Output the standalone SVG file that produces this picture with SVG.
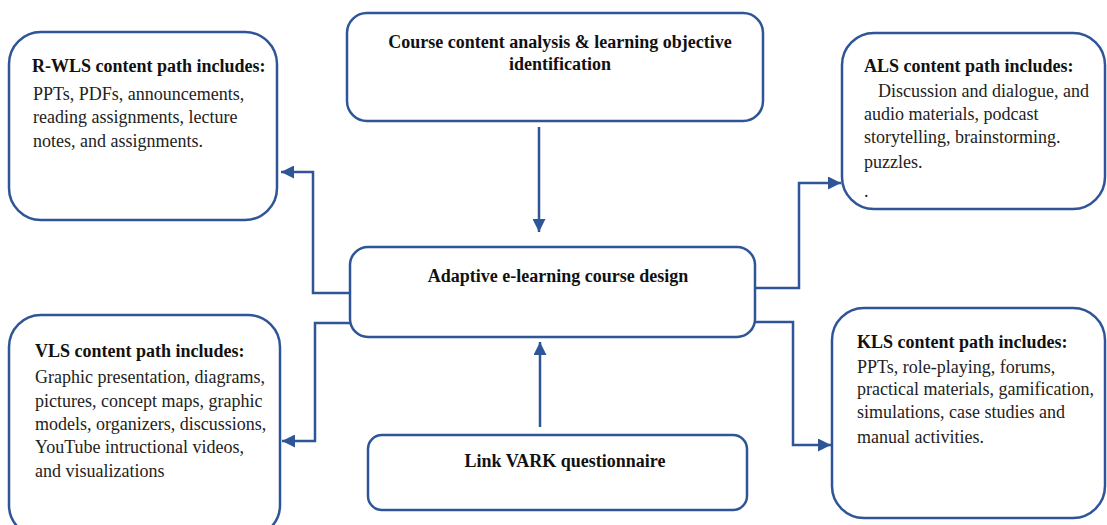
<svg xmlns="http://www.w3.org/2000/svg" width="1107" height="525" viewBox="0 0 1107 525">
<style>
.box{fill:#fff;stroke:#2e5597;stroke-width:2.5}
.conn{fill:none;stroke:#2e5597;stroke-width:2.5}
.h{font-family:"Liberation Serif",serif;font-weight:bold;font-size:18px;fill:#111}
.t{font-family:"Liberation Serif",serif;font-size:18px;fill:#222}
.c{text-anchor:middle}
</style>
<defs>
<marker id="ah" viewBox="0 0 10 10" refX="10" refY="5" markerWidth="14" markerHeight="13" markerUnits="userSpaceOnUse" orient="auto">
<path d="M0,0 L10,5 L0,10 Z" fill="#2e5597"/>
</marker>
</defs>
<rect width="1107" height="525" fill="#fff"/>
<g id="connectors">
<path class="conn" d="M539,127 V232" marker-end="url(#ah)"/>
<path class="conn" d="M540,427 V342" marker-end="url(#ah)"/>
<path class="conn" d="M350,293 H313 V172 H281" marker-end="url(#ah)"/>
<path class="conn" d="M350,323 H315 V441 H282" marker-end="url(#ah)"/>
<path class="conn" d="M755,288 H799 V183 H841" marker-end="url(#ah)"/>
<path class="conn" d="M755,322 H793 V445 H831" marker-end="url(#ah)"/>
</g>
<g id="course-analysis">
<rect class="box" x="347" y="13" width="416" height="108" rx="20"/>
<text class="h c" x="560" y="48">Course content analysis &amp; learning objective</text>
<text class="h c" x="560" y="70">identification</text>
</g>
<g id="adaptive-design">
<rect class="box" x="350" y="247" width="405" height="90" rx="18"/>
<text class="h c" x="558" y="282">Adaptive e-learning course design</text>
</g>
<g id="vark">
<rect class="box" x="368" y="435" width="379" height="75" rx="14"/>
<text class="h c" x="565" y="467">Link VARK questionnaire</text>
</g>
<g id="rwls">
<rect class="box" x="9" y="32" width="268" height="188" rx="32"/>
<text class="h" x="32" y="72">R-WLS content path includes:</text>
<text class="t" x="33" y="100">PPTs, PDFs, announcements,</text>
<text class="t" x="33" y="123">reading assignments, lecture</text>
<text class="t" x="33" y="147">notes, and assignments.</text>
</g>
<g id="als">
<rect class="box" x="842" y="33" width="263" height="176" rx="32"/>
<text class="h" x="864" y="72">ALS content path includes:</text>
<text class="t" x="878" y="97">Discussion and dialogue, and</text>
<text class="t" x="864" y="120">audio materials, podcast</text>
<text class="t" x="864" y="143">storytelling, brainstorming.</text>
<text class="t" x="864" y="168">puzzles.</text>
<text class="t" x="864" y="197">.</text>
</g>
<g id="vls">
<rect class="box" x="9" y="315" width="271" height="222" rx="32"/>
<text class="h" x="35" y="357">VLS content path includes:</text>
<text class="t" x="35" y="383">Graphic presentation, diagrams,</text>
<text class="t" x="35" y="407">pictures, concept maps, graphic</text>
<text class="t" x="35" y="430">models, organizers, discussions,</text>
<text class="t" x="35" y="453">YouTube intructional videos,</text>
<text class="t" x="35" y="477">and visualizations</text>
</g>
<g id="kls">
<rect class="box" x="832" y="308" width="273" height="210" rx="32"/>
<text class="h" x="857" y="348">KLS content path includes:</text>
<text class="t" x="857" y="373">PPTs, role-playing, forums,</text>
<text class="t" x="857" y="395">practical materials, gamification,</text>
<text class="t" x="857" y="418">simulations, case studies and</text>
<text class="t" x="857" y="443">manual activities.</text>
</g>
</svg>
